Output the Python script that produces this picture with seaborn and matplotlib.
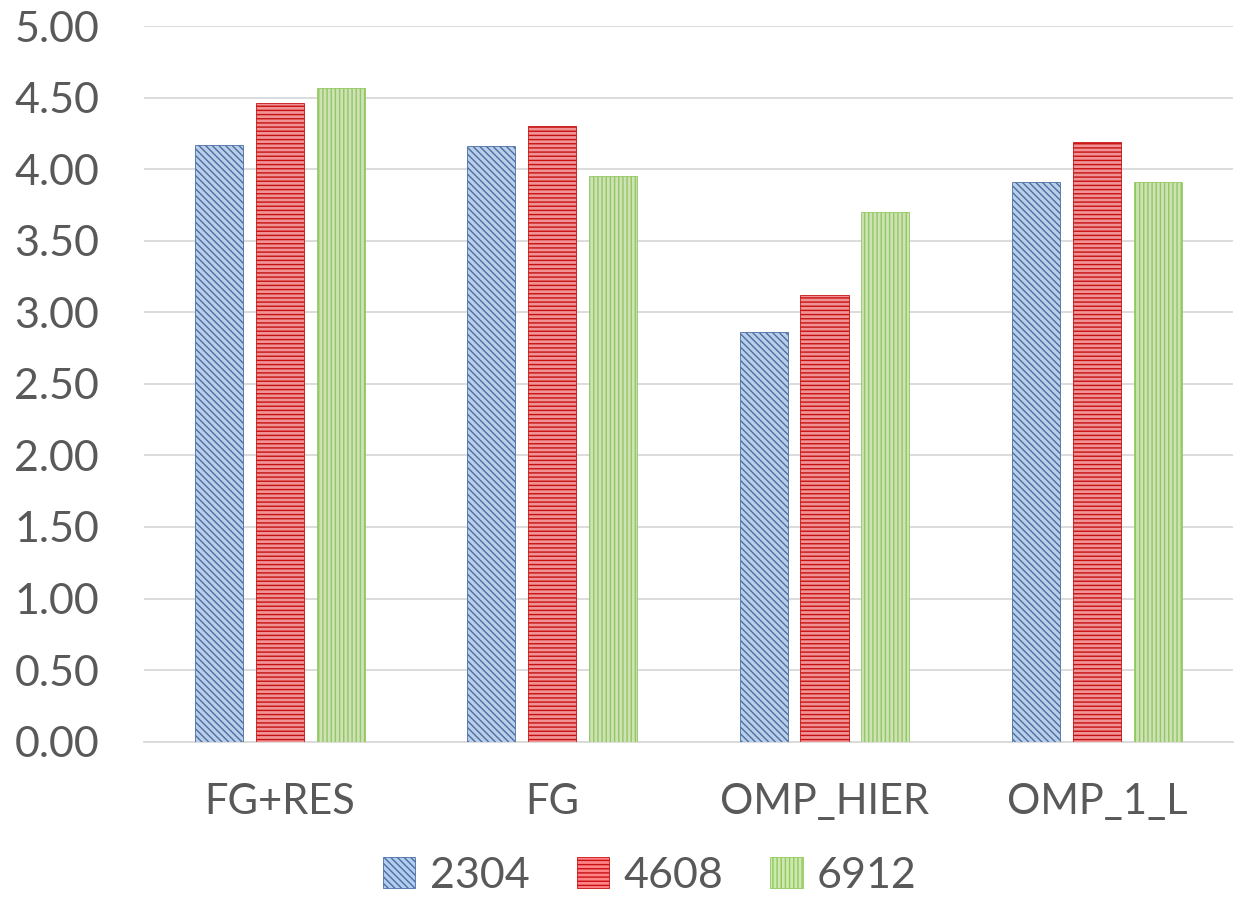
import pandas as pd
import seaborn as sns
from matplotlib import pyplot as plt
from matplotlib.patches import Patch

methods = ["FG+RES", "FG", "OMP_HIER", "OMP_1_L"]
sizes = ["2304", "4608", "6912"]
vals_2304 = [4.17, 4.16, 2.86, 3.91]
vals_4608 = [4.46, 4.30, 3.12, 4.19]
vals_6912 = [4.57, 3.95, 3.70, 3.91]

fills = ["#b4cdee", "#ff8488", "#cfe8b0"]
hatch_cols = ["#4a6fa5", "#c81010", "#92c860"]
hatches = ["\\\\\\\\\\", "----", "||||"]


def speedup_chart():
    rows = []
    for s, vals in zip(sizes, [vals_2304, vals_4608, vals_6912]):
        for m, v in zip(methods, vals):
            rows.append({"method": m, "size": s, "value": v})
    df = pd.DataFrame(rows)

    sns.set_style("white")
    plt.rcParams["font.family"] = ["Lato", "DejaVu Sans"]
    plt.rcParams["hatch.linewidth"] = 1.0

    fig = plt.figure(figsize=(12.38, 8.99), dpi=100)
    ax = fig.add_axes([0.116, 0.175, 0.880, 0.796])

    sns.barplot(data=df, x="method", y="value", hue="size", order=methods,
                hue_order=sizes, palette=fills, width=0.67, gap=0.21,
                ax=ax, legend=False, zorder=3)

    for i, cont in enumerate(ax.containers):
        for p in cont:
            p.set_hatch(hatches[i])
            p.set_edgecolor(hatch_cols[i])
            p.set_linewidth(0.6)

    ax.set_ylim(0, 5)
    ax.set_yticks([i * 0.5 for i in range(11)])
    ax.set_yticklabels([f"{i * 0.5:.2f}" for i in range(11)])
    ax.set_xlim(-0.5, 3.5)
    ax.set_xlabel("")
    ax.set_ylabel("")
    ax.grid(axis="y", color="#d9d9d9", lw=1.3, zorder=0)
    ax.set_axisbelow(True)
    for side in ["top", "right", "left"]:
        ax.spines[side].set_visible(False)
    ax.spines["bottom"].set_color("#d9d9d9")
    ax.spines["bottom"].set_linewidth(1.3)
    ax.tick_params(axis="y", length=0, pad=32, labelsize=31, labelcolor="#595959")
    ax.tick_params(axis="x", length=0, pad=30, labelsize=30, labelcolor="#595959")

    handles = [Patch(facecolor=fills[i], edgecolor=hatch_cols[i], hatch=hatches[i], lw=0.6)
               for i in range(3)]
    fig.legend(handles, sizes, loc="center", bbox_to_anchor=(0.525, 0.026),
               ncol=3, frameon=False, fontsize=31, labelcolor="#595959",
               handlelength=0.75, handleheight=0.75, handletextpad=0.33,
               columnspacing=1.1, borderpad=0)

    plt.savefig("out.png", dpi=100)


if __name__ == "__main__":
    speedup_chart()
